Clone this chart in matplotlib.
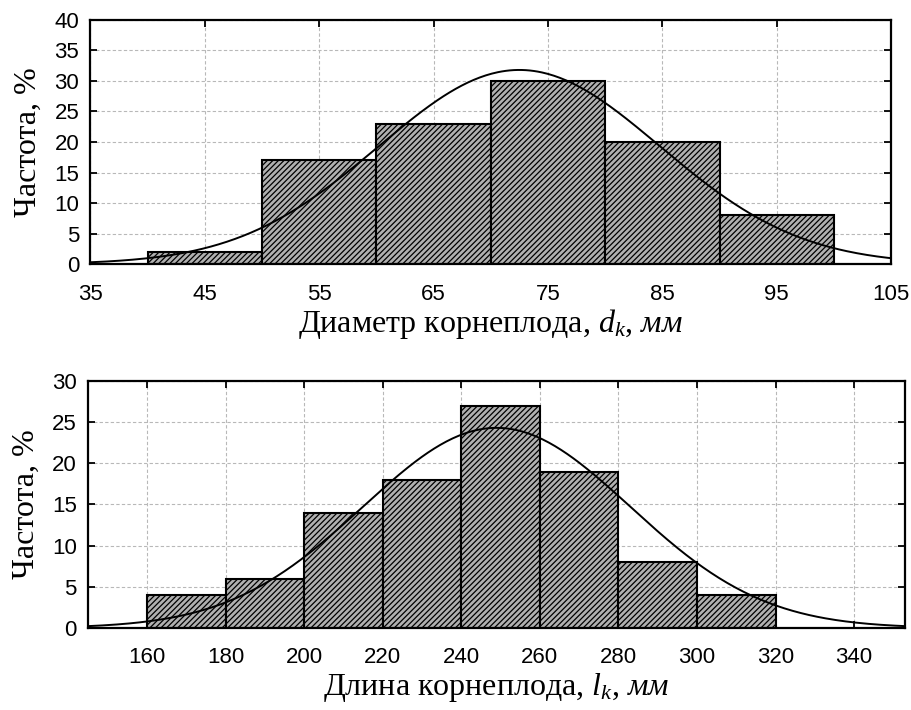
import numpy as np
import matplotlib
matplotlib.use("Agg")
import matplotlib.pyplot as plt

# диаметр корнеплода, мм
d_left = [40, 50, 60, 70, 80, 90]
d_freq = [2, 17, 23, 30, 20, 8]
d_width = 10
d_ticks = [35, 45, 55, 65, 75, 85, 95, 105]
d_yticks = [0, 5, 10, 15, 20, 25, 30, 35, 40]
d_mu, d_sd, d_peak = 72.5, 12.3, 31.8

# длина корнеплода, мм
l_left = [160, 180, 200, 220, 240, 260, 280, 300]
l_freq = [4, 6, 14, 18, 27, 19, 8, 4]
l_width = 20
l_ticks = [160, 180, 200, 220, 240, 260, 280, 300, 320, 340]
l_yticks = [0, 5, 10, 15, 20, 25, 30]
l_mu, l_sd, l_peak = 249, 34.0, 24.3

plt.rcParams['hatch.linewidth'] = 0.9
plt.rcParams['mathtext.fontset'] = 'custom'
plt.rcParams['mathtext.rm'] = 'Liberation Serif'
plt.rcParams['mathtext.it'] = 'Liberation Serif:italic'

fig = plt.figure(figsize=(9.12, 7.1), dpi=100)
ax1 = fig.add_axes([0.0991, 0.628, 0.878, 0.344])
ax2 = fig.add_axes([0.0965, 0.1155, 0.896, 0.348])


def draw(ax, left, freq, width, mu, sd, peak, xlim, xticks, yticks, xlabel):
    ax.set_axisbelow(True)
    ax.grid(True, color='#b8b8b8', linestyle=(0, (3, 2)), linewidth=0.8)
    ax.bar(left, freq, width=width, align='edge', facecolor='#b0b0b0',
           edgecolor='black', hatch='//////', linewidth=1.5)
    xs = np.linspace(xlim[0], xlim[1], 400)
    ax.plot(xs, peak * np.exp(-(xs - mu) ** 2 / (2 * sd ** 2)), color='black', lw=1.4)
    ax.set_xlim(xlim)
    ax.set_ylim(yticks[0], yticks[-1])
    ax.set_xticks(xticks)
    ax.set_yticks(yticks)
    ax.tick_params(direction='in', top=True, right=True, length=5, width=1.3,
                   labelsize=16)
    ax.tick_params(axis='x', pad=14)
    ax.tick_params(axis='y', pad=8)
    for lab in ax.get_xticklabels() + ax.get_yticklabels():
        lab.set_family('Liberation Sans')
    for s in ax.spines.values():
        s.set_linewidth(1.6)
    ax.set_ylabel('Частота, %', family='Liberation Serif', fontsize=23, labelpad=8)
    ax.set_xlabel(xlabel, family='Liberation Serif', fontsize=23, labelpad=2)


draw(ax1, d_left, d_freq, d_width, d_mu, d_sd, d_peak, (35, 105), d_ticks, d_yticks,
     'Диаметр корнеплода, $d_k$, $\\mathit{мм}$')
draw(ax2, l_left, l_freq, l_width, l_mu, l_sd, l_peak, (145, 353), l_ticks, l_yticks,
     'Длина корнеплода, $l_k$, $\\mathit{мм}$')

fig.savefig('out.png', dpi=100)
